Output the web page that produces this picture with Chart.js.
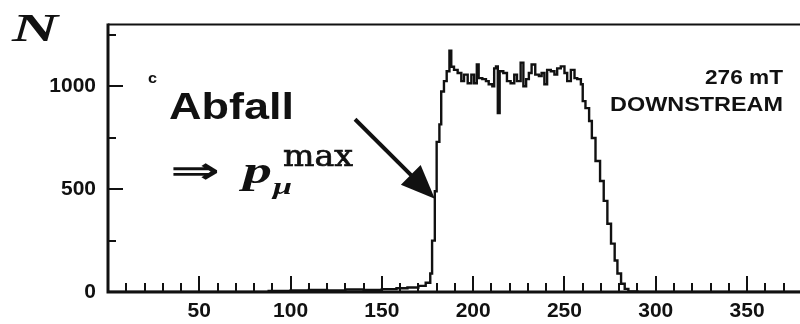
<!DOCTYPE html>
<html><head><meta charset="utf-8">
<script src="https://cdn.jsdelivr.net/npm/chart.js@4/dist/chart.umd.min.js"></script>
<style>html,body{margin:0;padding:0;background:#fff;}#wrap{width:800px;height:324px;}</style>
</head><body><div id="wrap"><canvas id="c" width="800" height="324"></canvas></div>
<script>
// Histogram bins: left edge of each bin and the counts
const binStart = [0, 88, 100, 110, 120, 130, 140, 150, 158, 164, 170, 174, 176.5, 177.5, 179, 180, 181.5, 182.5, 184, 185.5,
  187, 188, 189.5, 191.5, 193.5, 195, 197, 199, 200.5, 202, 203, 205, 207, 208.5, 210.5, 211.5, 212.5, 213.5, 214.5, 216.5,
  218.5, 220.5, 222.5, 224, 226, 227.5, 229, 230.5, 232, 234, 236, 237.5, 239, 240.5, 242.5, 244.5, 246, 248, 250, 251.5,
  253.5, 255.5, 257, 259, 260, 261.5, 263.5, 265, 267, 269.5, 271.5, 273.5, 275.5, 277.5, 279, 281, 283, 285, 290, 379];
const counts = [0, 5, 8, 10, 8, 12, 10, 14, 18, 22, 30, 45, 90, 250, 490, 730, 815, 975, 1025, 1073,
  1173, 1095, 1080, 1065, 1025, 1057, 1015, 1057, 1015, 1106, 1040, 1035, 1025, 1010, 1000, 1087, 1097, 870, 1073, 1065,
  1025, 1015, 1057, 1025, 1115, 1000, 1035, 1065, 1106, 1057, 1050, 1065, 1010, 1080, 1073, 1057, 1087, 1097, 1065, 1025,
  1080, 1040, 1035, 1010, 928, 894, 831, 749, 637, 540, 443, 332, 235, 153, 90, 40, 15, 3, 0, 0];
const xTickLabels = [50, 100, 150, 200, 250, 300, 350];
const yTickLabels = [0, 500, 1000];
const xRange = [0, 379];
const yRange = [0, 1300];

const INK = '#111';

function fitText(ctx, s, font, x, y, align, w, stroke) {
  ctx.save();
  ctx.font = font;
  ctx.textBaseline = 'alphabetic';
  ctx.textAlign = 'left';
  const m = ctx.measureText(s).width;
  const sx = w ? w / m : 1;
  const left = align === 'right' ? x - m * sx : x;
  ctx.translate(left, y);
  ctx.scale(sx, 1);
  ctx.fillText(s, 0, 0);
  if (stroke) { ctx.lineWidth = stroke; ctx.strokeText(s, 0, 0); }
  ctx.restore();
}

const decor = {
  id: 'decor',
  afterDatasetsDraw(chart) {
    const ctx = chart.ctx, a = chart.chartArea;
    const xs = chart.scales.x, ys = chart.scales.y;
    const X = v => xs.getPixelForValue(v), Y = v => ys.getPixelForValue(v);
    ctx.save();
    ctx.strokeStyle = INK; ctx.fillStyle = INK; ctx.lineCap = 'butt';
    // frame
    ctx.lineWidth = 3;
    ctx.beginPath();
    ctx.moveTo(a.left, a.top - 1); ctx.lineTo(a.left, a.bottom + 1.5);
    ctx.moveTo(a.left - 1.5, a.bottom); ctx.lineTo(a.right, a.bottom);
    ctx.stroke();
    ctx.lineWidth = 2;
    ctx.beginPath(); ctx.moveTo(a.left, a.top); ctx.lineTo(a.right, a.top); ctx.stroke();
    // inward tick marks
    ctx.lineWidth = 2;
    ctx.beginPath();
    for (let v = 10; v <= xRange[1]; v += 10) {
      const len = v % 50 === 0 ? 16 : 9;
      const px = Math.round(X(v));
      ctx.moveTo(px, a.bottom); ctx.lineTo(px, a.bottom - len);
    }
    for (let v = 250; v < yRange[1]; v += 250) {
      const len = v % 500 === 0 ? 15 : 8;
      const py = Math.round(Y(v));
      ctx.moveTo(a.left, py); ctx.lineTo(a.left + len, py);
    }
    ctx.stroke();
    // annotations
    fitText(ctx, 'N', 'bold italic 40px "Liberation Serif"', X(-52.6), Y(1218), 'left', 46);
    fitText(ctx, 'c', 'bold 14px "Liberation Sans"', X(21.9), Y(1014), 'left', 9);
    fitText(ctx, 'Abfall', 'bold 37px "Liberation Sans"', X(33.4), Y(839), 'left', 125);
    fitText(ctx, '\u21D2', 'bold 36px "DejaVu Sans"', X(34), Y(532), 'left', 50);
    fitText(ctx, 'p', 'bold italic 38px "Liberation Serif"', X(74), Y(532), 'left', 29);
    fitText(ctx, '\u03BC', 'bold italic 24px "Liberation Serif"', X(90.4), Y(477), 'left', 19);
    fitText(ctx, 'max', '30px "DejaVu Serif"', X(95.8), Y(613), 'left', 70, 0.7);
    fitText(ctx, '276 mT', 'bold 21px "Liberation Sans"', X(369.7), Y(1010), 'right', 78);
    fitText(ctx, 'DOWNSTREAM', 'bold 21px "Liberation Sans"', X(369.7), Y(879), 'right', 173);
    // arrow
    const x0 = X(135.3), y0 = Y(840), x1 = X(179), y1 = Y(453);
    const ang = Math.atan2(y1 - y0, x1 - x0), hl = 34, hw = 14;
    const bx = x1 - hl * Math.cos(ang), by = y1 - hl * Math.sin(ang);
    ctx.lineWidth = 4;
    ctx.beginPath(); ctx.moveTo(x0, y0); ctx.lineTo(bx + 4 * Math.cos(ang), by + 4 * Math.sin(ang)); ctx.stroke();
    ctx.beginPath();
    ctx.moveTo(x1, y1);
    ctx.lineTo(bx + hw * Math.sin(ang), by - hw * Math.cos(ang));
    ctx.lineTo(bx - hw * Math.sin(ang), by + hw * Math.cos(ang));
    ctx.closePath(); ctx.fill();
    ctx.restore();
  }
};

const tickFont = { family: 'Liberation Sans', size: 21, weight: 'bold' };

new Chart(document.getElementById('c'), {
  type: 'line',
  data: {
    datasets: [{
      data: binStart.map((x, i) => ({ x, y: counts[i] })),
      stepped: true,
      borderColor: INK,
      borderWidth: 2.4,
      pointRadius: 0,
      fill: false
    }]
  },
  options: {
    responsive: false,
    animation: false,
    devicePixelRatio: 1,
    layout: { padding: { top: 23, left: 0, right: 0, bottom: 0 } },
    plugins: { legend: { display: false }, tooltip: { enabled: false } },
    scales: {
      x: {
        type: 'linear', min: xRange[0], max: xRange[1],
        afterFit(s) { s.height = 32; },
        afterBuildTicks(s) { s.ticks = xTickLabels.map(v => ({ value: v })); },
        grid: { display: false, drawTicks: false },
        border: { display: false },
        ticks: { color: INK, font: tickFont, padding: 7, maxRotation: 0, autoSkip: false, callback: v => String(v) }
      },
      y: {
        type: 'linear', min: yRange[0], max: yRange[1],
        afterFit(s) { s.width = 108; },
        afterBuildTicks(s) { s.ticks = yTickLabels.map(v => ({ value: v })); },
        grid: { display: false, drawTicks: false },
        border: { display: false },
        ticks: { color: INK, font: tickFont, padding: 12, autoSkip: false, callback: v => String(v) }
      }
    }
  },
  plugins: [decor]
});
</script></body></html>
